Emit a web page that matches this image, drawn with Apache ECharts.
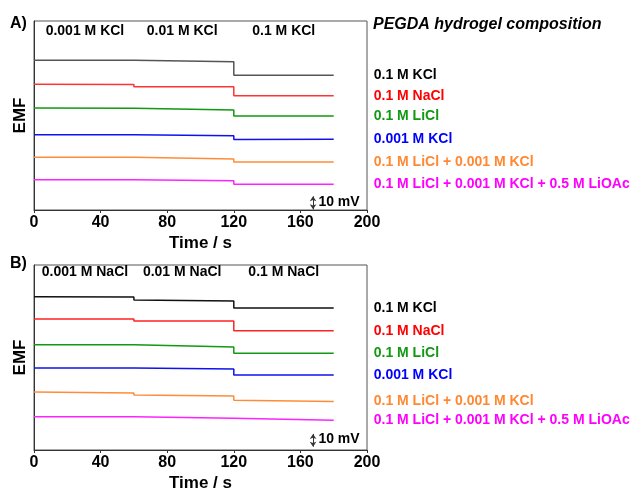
<!DOCTYPE html>
<html>
<head>
<meta charset="utf-8">
<script src="https://cdn.jsdelivr.net/npm/echarts@6/dist/echarts.min.js"></script>
<style>
  html, body { margin: 0; padding: 0; background: #fff; }
  #chart { width: 641px; height: 493px; }
</style>
</head>
<body>
<div id="chart"></div>
<script>
// time points of the step traces (jumps at 60 s and 120 s)
const stepTimes = [0, 60, 60, 120, 120, 180];
const xTicks = [0, 40, 80, 120, 160, 200];

const seriesNames = ["0.1 M KCl", "0.1 M NaCl", "0.1 M LiCl", "0.001 M KCl",
    "0.1 M LiCl + 0.001 M KCl", "0.1 M LiCl + 0.001 M KCl + 0.5 M LiOAc"];

// panel A: KCl activity steps, EMF in mV (offset traces)
const aKCl = [114.9, 114.9, 113.8, 113.8, 103.3, 103.3];
const aNaCl = [96.4, 96.2, 94.6, 94.6, 87.7, 87.7];
const aLiCl = [78.3, 78.0, 77.3, 76.7, 72.1, 72.1];
const aKClLow = [57.8, 57.8, 57.0, 57.0, 54.0, 54.2];
const aLiClKCl = [40.4, 40.4, 39.4, 39.2, 36.8, 36.8];
const aLiOAc = [23.2, 23.2, 22.5, 22.5, 19.7, 19.7];
const aLabels = ["0.001 M KCl", "0.01 M KCl", "0.1 M KCl"];

// panel B: NaCl activity steps
const bKCl = [120.2, 120.0, 117.6, 116.8, 111.3, 111.3];
const bNaCl = [102.7, 102.7, 101.1, 101.1, 93.5, 93.5];
const bLiCl = [82.5, 82.5, 81.3, 80.8, 75.8, 75.8];
const bKClLow = [64.3, 64.2, 63.5, 63.4, 58.8, 58.8];
const bLiClKCl = [45.5, 44.7, 43.1, 42.3, 39.0, 38.0];
const bLiOAc = [26.1, 26.0, 24.8, 24.8, 23.3, 23.3];
const bLabels = ["0.001 M NaCl", "0.01 M NaCl", "0.1 M NaCl"];

const segmentLabelTimes = [30.6, 89, 150];
const scaleBarMv = 10;

const lineColorsA = ["#555555", "#ff3333", "#119911", "#1111ee", "#ff8c3a", "#ff22ff"];
const lineColorsB = ["#111111", "#ff2222", "#119911", "#1111ee", "#ff8c3a", "#ff22ff"];
const textColors = ["#000000", "#ff0000", "#119911", "#0000ff", "#ff8833", "#ff00ff"];

const chart = echarts.init(document.getElementById("chart"));
const font = "Liberation Sans, Arial, sans-serif";

function panelSeries(values, colors, gridIndex, labels, labelY, barY0, textY) {
    const out = values.map((vals, i) => ({
        type: "line",
        name: seriesNames[i],
        xAxisIndex: gridIndex,
        yAxisIndex: gridIndex,
        data: stepTimes.map((t, k) => [t, vals[k]]),
        symbol: "none",
        lineStyle: { color: colors[i], width: 1.5 },
        itemStyle: { color: colors[i] },
        endLabel: {
            show: true,
            formatter: seriesNames[i],
            distance: 40,
            color: textColors[i],
            fontFamily: font,
            fontWeight: "bold",
            fontSize: 14,
        },
        silent: true,
        animation: false,
    }));
    out.push({
        type: "scatter",
        xAxisIndex: gridIndex,
        yAxisIndex: gridIndex,
        symbolSize: 0,
        itemStyle: { opacity: 1 },
        data: labels.map((name, i) => ({ name, value: [segmentLabelTimes[i], labelY] })),
        label: {
            show: true,
            position: [0, 0],
            align: "center",
            verticalAlign: "middle",
            formatter: "{b}",
            color: "#000",
            fontFamily: font,
            fontWeight: "bold",
            fontSize: 14,
        },
        silent: true,
        animation: false,
    });
    out.push({
        type: "scatter",
        xAxisIndex: gridIndex,
        yAxisIndex: gridIndex,
        symbolSize: 0,
        itemStyle: { opacity: 1 },
        data: [{ name: scaleBarMv + " mV", value: [170.8, textY] }],
        label: {
            show: true,
            position: [0, 0],
            align: "left",
            verticalAlign: "middle",
            formatter: "{b}",
            color: "#000",
            fontFamily: font,
            fontWeight: "bold",
            fontSize: 14,
        },
        markLine: {
            silent: true,
            symbol: ["arrow", "arrow"],
            symbolSize: [5, 5],
            label: { show: false },
            lineStyle: { color: "#333", width: 1, type: "solid" },
            data: [[{ coord: [167.6, barY0] }, { coord: [167.6, barY0 + scaleBarMv] }]],
        },
        silent: true,
        animation: false,
    });
    return out;
}

function xAxis(gridIndex) {
    return {
        type: "value",
        gridIndex,
        min: 0,
        max: 200,
        interval: 40,
        name: "Time / s",
        nameLocation: "middle",
        nameGap: 25,
        nameTextStyle: { fontFamily: font, fontWeight: "bold", fontSize: 17, color: "#000", verticalAlign: "top" },
        axisLine: { show: true, lineStyle: { color: "#333", width: 1 } },
        axisTick: { show: true, length: 3, lineStyle: { color: "#333" } },
        axisLabel: { margin: 5, fontFamily: font, fontWeight: "bold", fontSize: 16, color: "#000" },
        splitLine: { show: false },
    };
}

function yAxis(gridIndex) {
    return {
        type: "value",
        gridIndex,
        min: 0,
        max: 145,
        name: "EMF",
        nameLocation: "middle",
        nameRotate: 90,
        nameGap: 5,
        nameTextStyle: { fontFamily: font, fontWeight: "bold", fontSize: 17, color: "#000" },
        axisLine: { show: true, lineStyle: { color: "#333", width: 1 } },
        axisTick: { show: false },
        axisLabel: { show: false },
        splitLine: { show: false },
    };
}

const option = {
    backgroundColor: "#fff",
    animation: false,
    title: [
        { text: "A)", left: 5, top: 11, textStyle: { fontFamily: font, fontWeight: "bold", fontSize: 16, color: "#000" } },
        { text: "B)", left: 5, top: 251, textStyle: { fontFamily: font, fontWeight: "bold", fontSize: 16, color: "#000" } },
        { text: "PEGDA hydrogel composition", left: 368, top: 12,
          textStyle: { fontFamily: font, fontWeight: "bold", fontStyle: "italic", fontSize: 16, color: "#000" } },
    ],
    grid: [
        { left: 34, right: 274, top: 21, height: 189, show: true, borderColor: "#555", borderWidth: 1, backgroundColor: "transparent" },
        { left: 34, right: 274, top: 265, height: 185, show: true, borderColor: "#555", borderWidth: 1, backgroundColor: "transparent" },
    ],
    xAxis: [xAxis(0), xAxis(1)],
    yAxis: [yAxis(0), yAxis(1)],
    series: [
        ...panelSeries([aKCl, aNaCl, aLiCl, aKClLow, aLiClKCl, aLiOAc], lineColorsA, 0, aLabels, 137.3, 0.5, 6.1),
        ...panelSeries([bKCl, bNaCl, bLiCl, bKClLow, bLiClKCl, bLiOAc], lineColorsB, 1, bLabels, 139.7, 2.6, 8.4),
    ],
};

chart.setOption(option);
window.addEventListener("resize", () => chart.resize());
</script>
</body>
</html>
